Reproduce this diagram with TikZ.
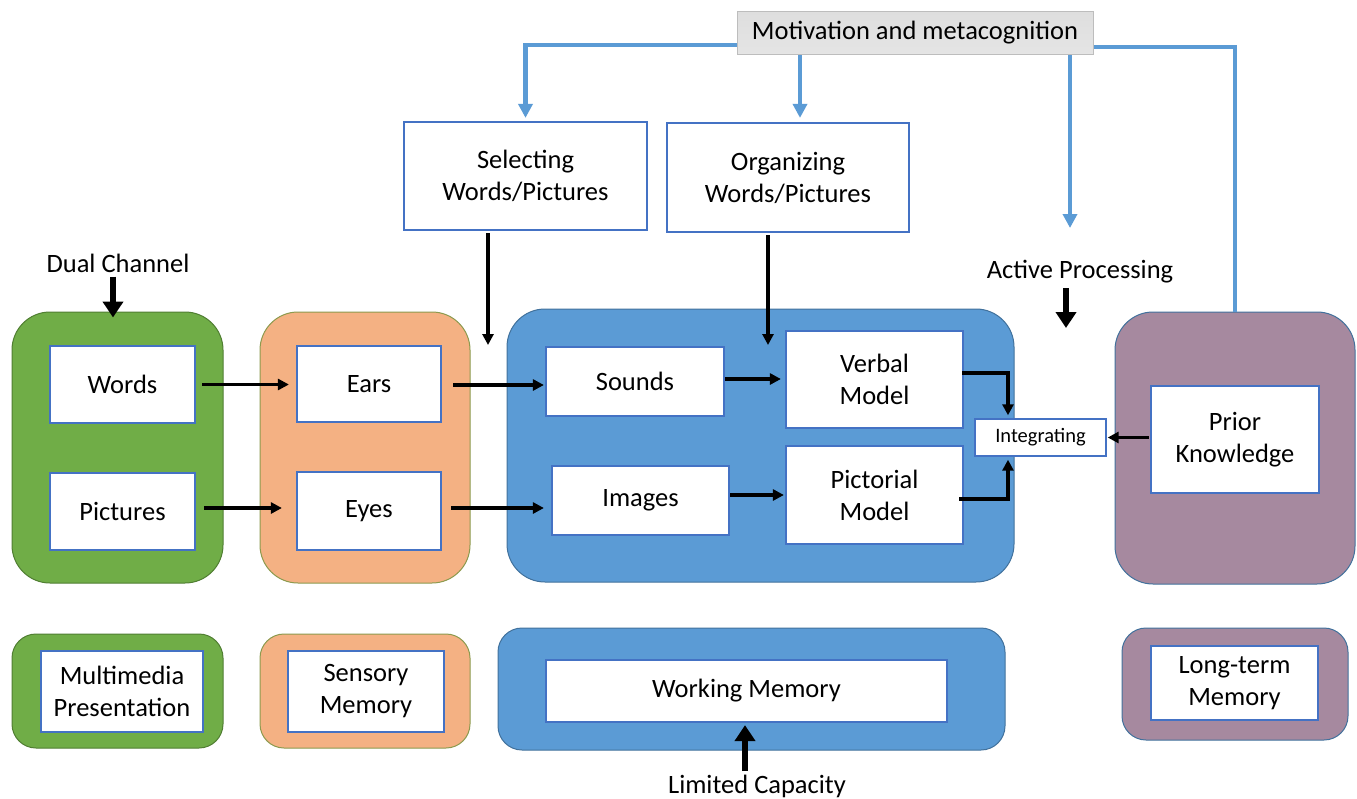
\documentclass[tikz,border=0pt]{standalone}
\usepackage{fontspec}
\setmainfont{Carlito}
\usetikzlibrary{arrows.meta}

\definecolor{ltgreen}{HTML}{70AD47}
\definecolor{dkgreen}{HTML}{507E32}
\definecolor{ltorange}{HTML}{F4B183}
\definecolor{orangeedge}{HTML}{8C9A4E}
\definecolor{ltblue}{HTML}{5B9BD5}
\definecolor{blueedge}{HTML}{41719C}
\definecolor{ltpurple}{HTML}{A6899F}
\definecolor{boxedge}{HTML}{4472C4}
\definecolor{greyfill}{HTML}{D0D0D0}
\definecolor{greyedge}{HTML}{BDBDBD}

\tikzset{
  container/.style={draw=#1, line width=1pt, rounded corners=38, inner sep=0, anchor=center},
  smallcontainer/.style={draw=#1, line width=1pt, rounded corners=24, inner sep=0, anchor=center},
  labelbox/.style={draw=boxedge, fill=white, line width=2.2pt, inner sep=0, align=center,
    font=\fontsize{26.5}{32}\selectfont},
  caption/.style={font=\fontsize{26.5}{32}\selectfont, inner sep=0},
  conn/.style={draw=black, line width=3.2pt, -{Triangle[length=11, width=11]}},
  bold arrow/.style={draw=black, line width=6pt, -{Triangle[length=16, width=20]}},
  control/.style={draw=ltblue, line width=4.5pt},
  control arrow/.style={control, -{Triangle[length=14, width=14]}},
}

\begin{document}
\begin{tikzpicture}[x=1pt, y=-1pt]
\useasboundingbox (0,0) rectangle (1357,798);

% ---------- upper row: memory stores ----------
\node[container=dkgreen, fill=ltgreen, minimum width=211, minimum height=271] (gtop) at (117.5,447.5) {};
\node[container=orangeedge, fill=ltorange, minimum width=210, minimum height=271] (otop) at (365,447.5) {};
\node[container=blueedge, fill=ltblue, minimum width=507, minimum height=273] (btop) at (760.5,445.5) {};
\node[container=blueedge, fill=ltpurple, minimum width=240, minimum height=272] (ptop) at (1235,448) {};

% ---------- lower row: store names ----------
\node[smallcontainer=dkgreen, fill=ltgreen, minimum width=211, minimum height=114] (gbot) at (117.5,691) {};
\node[smallcontainer=orangeedge, fill=ltorange, minimum width=210, minimum height=114] (obot) at (365,691) {};
\node[smallcontainer=blueedge, fill=ltblue, minimum width=507, minimum height=122] (bbot) at (751.5,689) {};
\node[smallcontainer=blueedge, fill=ltpurple, minimum width=226, minimum height=112] (pbot) at (1235,684) {};

% ---------- boxes inside the stores ----------
\node[labelbox, minimum width=145, minimum height=77] (words) at (122.5,384.5) {Words};
\node[labelbox, minimum width=145, minimum height=77] (pics) at (122.5,511.5) {Pictures};
\node[labelbox, minimum width=144, minimum height=76] (ears) at (369,384) {Ears};
\node[labelbox, minimum width=144, minimum height=78] (eyes) at (369,511) {Eyes};
\node[labelbox, minimum width=178, minimum height=69] (sounds) at (635,381.5) {Sounds};
\node[labelbox, minimum width=177, minimum height=69] (images) at (640.5,500.5) {Images};
\node[labelbox, minimum width=177, minimum height=97] (verbal) at (874.5,379.5) {Verbal\\Model};
\node[labelbox, minimum width=177, minimum height=98] (pict) at (874.5,495) {Pictorial\\Model};
\node[labelbox, line width=1.4pt, minimum width=131, minimum height=37,
      font=\fontsize{20.5}{24}\selectfont] (integ) at (1040.5,437.5) {Integrating};
\node[labelbox, minimum width=168, minimum height=107] (prior) at (1235,439.5) {Prior\\Knowledge};

\node[labelbox, minimum width=162, minimum height=81] (multi) at (122,691.5) {Multimedia\\Presentation};
\node[labelbox, minimum width=156, minimum height=81] (sensory) at (366,691.5) {Sensory\\Memory};
\node[labelbox, minimum width=401, minimum height=62] (working) at (746.5,691) {Working Memory};
\node[labelbox, minimum width=167, minimum height=74] (longterm) at (1234.5,683) {Long-term\\Memory};

% ---------- cognitive processes ----------
\node[labelbox, minimum width=243, minimum height=108] (select) at (525.5,176) {Selecting\\Words/Pictures};
\node[labelbox, minimum width=242, minimum height=109] (organize) at (788,177.5) {Organizing\\Words/Pictures};
\node[draw=greyedge, line width=1pt, top color=greyfill!70, bottom color=greyfill!110!black,
      minimum width=356, minimum height=43, inner sep=0,
      font=\fontsize{26.5}{30}\selectfont] (motiv) at (915,33) {Motivation and metacognition};

% ---------- captions ----------
\node[caption] (dual) at (118,263) {Dual Channel};
\node[caption] (active) at (1080,272) {Active Processing};
\node[caption] (limited) at (757,786) {Limited Capacity};

\coordinate (selEnd) at (488,345);
\coordinate (orgEnd) at (768,345);
\coordinate (actTip) at (1070,228);
\coordinate (actFrom) at (1066,288);
\coordinate (actTo) at (1066,328);
\coordinate (capFrom) at (745,771);

% ---------- control lines from motivation ----------
\draw[control arrow, shorten >=3] ([yshift=-12]motiv.west) -| (select.north);
\draw[control arrow, shorten >=4] ([xshift=12]organize.north |- motiv.south) -- ([xshift=12]organize.north);
\draw[control arrow] (actTip |- motiv.south) -- (actTip);
\draw[control] ([yshift=-14]motiv.east) -| (ptop.north);

% ---------- bold pointer arrows ----------
\draw[bold arrow, shorten <=4, shorten >=-6] (dual.south -| 113,0) -- ([xshift=-4.5]gtop.north);
\draw[bold arrow] (actFrom) -- (actTo);
\draw[bold arrow, shorten >=2] (capFrom) -- (capFrom |- working.south);

% ---------- information flow ----------
\draw[conn, shorten <=6, shorten >=7] (words.east) -- (words.east -| ears.west);
\draw[conn, shorten <=8, shorten >=14] (pics.east |- 0,508) -- (eyes.west |- 0,508);
\draw[conn, shorten <=11, shorten >=1] (ears.east |- 0,385) -- (sounds.west |- 0,385);
\draw[conn, shorten <=9, shorten >=7] (eyes.east |- 0,508) -- (images.west |- 0,508);
\draw[conn, shorten >=4] (sounds.east |- 0,379) -- (verbal.west |- 0,379);
\draw[conn, shorten >=1] (images.east |- 0,495) -- (pict.west |- 0,495);
\draw[conn, shorten <=2] (select.south -| selEnd) -- (selEnd);
\draw[conn, shorten <=2] (organize.south -| orgEnd) -- (orgEnd);
\draw[conn, shorten >=3] ([xshift=-2, yshift=6.5]verbal.east) -| ([xshift=-32.5]integ.north);
\draw[conn, shorten >=3] ([xshift=-5, yshift=-4]pict.east) -| ([xshift=-32.5]integ.south);
\draw[conn, shorten <=1, shorten >=1] (prior.west |- integ.east) -- (integ.east);
\end{tikzpicture}
\end{document}
